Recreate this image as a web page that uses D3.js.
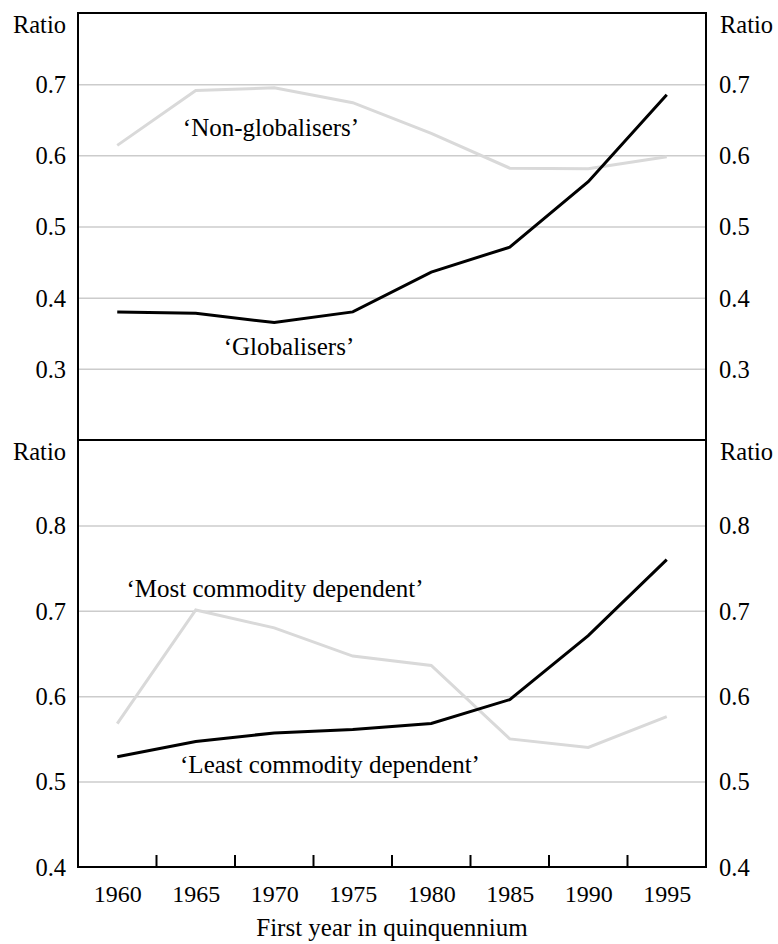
<!DOCTYPE html>
<html>
<head>
<meta charset="utf-8">
<script src="https://cdn.jsdelivr.net/npm/d3@7"></script>
<style>html, body { margin: 0; padding: 0; background: #fff; } svg { display: block; }</style>
</head>
<body>
<svg id="chart" width="778" height="944"></svg>
<script>
// ---- data ----
const years = ["1960", "1965", "1970", "1975", "1980", "1985", "1990", "1995"];
const globalisers    = [0.380, 0.378, 0.365, 0.380, 0.436, 0.471, 0.563, 0.685];
const nonGlobalisers = [0.614, 0.691, 0.695, 0.674, 0.631, 0.582, 0.581, 0.598];
const leastCommodity = [0.529, 0.547, 0.557, 0.561, 0.568, 0.596, 0.671, 0.760];
const mostCommodity  = [0.568, 0.701, 0.680, 0.647, 0.636, 0.550, 0.540, 0.576];
const topTicks    = [0.3, 0.4, 0.5, 0.6, 0.7];
const bottomTicks = [0.4, 0.5, 0.6, 0.7, 0.8];
const topDomain    = [0.2, 0.8];
const bottomDomain = [0.4, 0.9];
const yAxisTitle = "Ratio";
const xAxisTitle = "First year in quinquennium";
const annotations = [
  "\u2018Non-globalisers\u2019",
  "\u2018Globalisers\u2019",
  "\u2018Most commodity dependent\u2019",
  "\u2018Least commodity dependent\u2019"
];

const ff = "\"Liberation Serif\", \"Times New Roman\", serif";

// ---- layout ----
const svg = d3.select("#chart");
const left = 78, right = 706;
const topY = 13, midY = 440, bottomY = 867;
const fs = "24px";

function styleText(sel, size) {
  return sel.style("font-family", ff).style("font-size", size || fs).style("fill", "#000");
}

const xBand = d3.scaleBand().domain(years).range([left, right]).padding(0);
const xPt = d3.scalePoint().domain(years).range([left, right]).padding(0.5);
const yTop = d3.scaleLinear().domain(topDomain).range([midY, topY]);
const yBot = d3.scaleLinear().domain(bottomDomain).range([bottomY, midY]);
const fmt = d3.format(".1f");

function grid(scale, ticks) {
  const g = svg.append("g").attr("transform", `translate(${left},0)`)
    .call(d3.axisRight(scale).tickValues(ticks).tickSize(right - left).tickFormat(""));
  g.select(".domain").remove();
  g.selectAll(".tick line").attr("stroke", "#cccccc").attr("stroke-width", 1.5);
}
grid(yTop, topTicks.filter(t => t > topDomain[0]));
grid(yBot, bottomTicks.filter(t => t > bottomDomain[0]));

function labels(scale, ticks) {
  const gl = svg.append("g").attr("transform", `translate(${left},0)`)
    .call(d3.axisLeft(scale).tickValues(ticks).tickSize(0).tickPadding(12).tickFormat(fmt));
  const gr = svg.append("g").attr("transform", `translate(${right},0)`)
    .call(d3.axisRight(scale).tickValues(ticks).tickSize(0).tickPadding(13).tickFormat(fmt));
  [gl, gr].forEach(g => {
    g.attr("font-family", null).attr("font-size", null);
    g.select(".domain").remove();
    styleText(g.selectAll("text"), "24.5px").attr("dy", "0.34em");
  });
}
labels(yTop, topTicks);
labels(yBot, bottomTicks);

// Ratio titles
[[33, "end", left - 12], [33, "start", right + 14], [460, "end", left - 12], [460, "start", right + 14]].forEach(([y, anchor, x]) => {
  styleText(svg.append("text").attr("x", x).attr("y", y).attr("text-anchor", anchor), "24.5px").text(yAxisTitle);
});

// lines
const lineTop = d3.line().x((d, i) => xPt(years[i])).y(d => yTop(d));
const lineBot = d3.line().x((d, i) => xPt(years[i])).y(d => yBot(d));
function drawLine(gen, data, color, w) {
  svg.append("path").datum(data).attr("d", gen).attr("fill", "none")
    .attr("stroke", color).attr("stroke-width", w).attr("stroke-linejoin", "miter");
}
drawLine(lineTop, nonGlobalisers, "#d9d9d9", 3);
drawLine(lineTop, globalisers, "#000", 3);
drawLine(lineBot, mostCommodity, "#d9d9d9", 3);
drawLine(lineBot, leastCommodity, "#000", 3);

// x axis
const xa = svg.append("g").attr("transform", `translate(0,${bottomY})`)
  .call(d3.axisBottom(xPt).tickSize(0).tickPadding(18));
xa.attr("font-family", null).attr("font-size", null);
xa.select(".domain").remove();
styleText(xa.selectAll("text"));
svg.append("g").selectAll("line").data(years.slice(1)).join("line")
  .attr("x1", d => xBand(d)).attr("x2", d => xBand(d))
  .attr("y1", bottomY).attr("y2", bottomY - 12)
  .attr("stroke", "#000").attr("stroke-width", 2);

styleText(svg.append("text").attr("x", (left + right) / 2).attr("y", 936).attr("text-anchor", "middle"), "25px").text(xAxisTitle);

// frame + divider
svg.append("rect").attr("x", left).attr("y", topY).attr("width", right - left).attr("height", bottomY - topY)
  .attr("fill", "none").attr("stroke", "#000").attr("stroke-width", 2);
svg.append("line").attr("x1", left).attr("x2", right).attr("y1", midY).attr("y2", midY)
  .attr("stroke", "#000").attr("stroke-width", 2);

// annotations
const notePos = [[271, 136], [289, 355], [275, 597], [330, 773]];
annotations.forEach((t, i) => {
  styleText(svg.append("text").attr("x", notePos[i][0]).attr("y", notePos[i][1]).attr("text-anchor", "middle"), "25px").text(t);
});
</script>
</body>
</html>
